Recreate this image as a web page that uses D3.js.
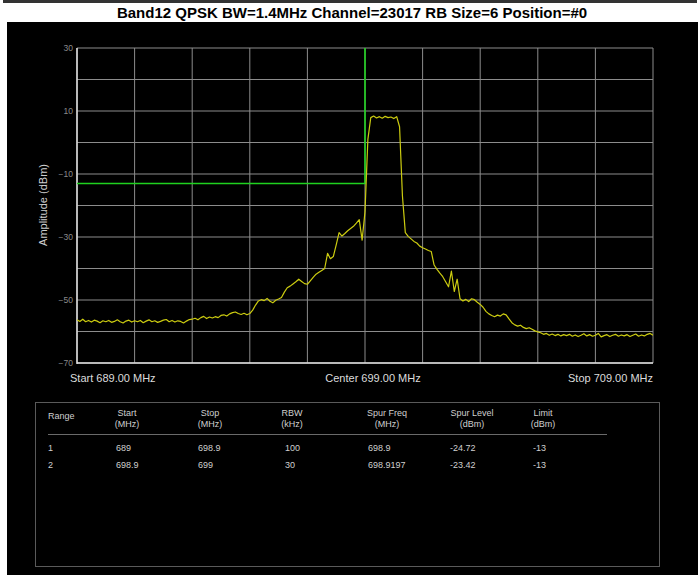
<!DOCTYPE html>
<html>
<head>
<meta charset="utf-8">
<script src="https://cdn.jsdelivr.net/npm/d3@7/dist/d3.min.js"></script>
<style>
  html, body { margin: 0; padding: 0; background: #fff; }
  svg { display: block; }
  text { font-family: "Liberation Sans", Arial, sans-serif; }
</style>
</head>
<body>
<svg id="chart" width="700" height="575"></svg>
<script>
// ---------------- DATA ----------------
const title = "Band12 QPSK BW=1.4MHz Channel=23017 RB Size=6 Position=#0";
const startFreq = 689;   // MHz
const stopFreq = 709;    // MHz
const centerFreq = 699;  // MHz
const yTickValues = [30, 10, -10, -30, -50, -70];
const yGridValues = [30, 20, 10, 0, -10, -20, -30, -40, -50, -60, -70];
const xGridValues = [689, 691, 693, 695, 697, 699, 701, 703, 705, 707, 709];
const xLabels = ["Start 689.00 MHz", "Center 699.00 MHz", "Stop 709.00 MHz"];
const yAxisTitle = "Amplitude (dBm)";

// trace levels (dBm), one sweep point every 0.1 MHz from 689.0 to 709.0
const traceLevels = [
  -56.3,
  -56.8, -56.1, -56.9, -56.5, -57.0, -56.4, -56.7, -57.2, -56.6, -56.9,
  -56.5, -57.1, -56.8, -56.3, -56.9, -57.3, -56.7, -56.4, -57.0, -56.6,
  -56.9, -56.5, -57.2, -56.7, -56.3, -56.9, -56.6, -57.1, -56.8, -56.4,
  -56.2, -56.9, -56.5, -57.0, -56.6, -56.8, -57.3, -56.7, -56.2, -56.1,
  -55.8, -56.3, -55.6, -55.2, -55.9, -55.4, -55.7, -55.3, -55.6, -54.9,
  -54.7, -55.1, -54.4, -54.0, -53.8, -54.3, -54.6, -54.2, -54.7, -54.3,
  -53.2, -51.6, -50.3, -49.9, -50.2, -49.5, -50.4, -50.9, -50.1, -49.7,
  -49.2, -47.5, -46.1, -45.6, -44.9, -44.2, -43.4, -44.1, -44.8, -45.0,
  -43.9, -42.8, -41.8, -41.2, -40.6, -40.0, -35.2, -36.9, -36.2, -32.5,
  -28.6, -29.7, -28.9, -28.0, -27.3, -26.6, -25.6, -24.5, -31.0, -22.0,
    1.0,   7.9,   8.4,   7.8,   8.2,   7.7,   8.3,   7.9,   8.1,   7.6,
    8.2,   5.0, -17.0, -28.6, -29.8, -30.6, -31.4, -31.9, -32.9, -33.4,
  -33.8, -34.3, -34.6, -38.9, -40.3, -41.5, -42.6, -44.2, -45.8, -40.8,
  -47.3, -43.4, -49.6, -50.3, -49.8, -50.5, -49.6, -49.9, -50.7, -51.4,
  -52.3, -53.6, -54.4, -54.9, -55.3, -54.8, -55.1, -54.4, -54.7, -56.0,
  -57.2, -57.9, -58.3, -58.0, -58.7, -59.1, -58.8, -59.3, -59.8, -60.1,
  -60.4, -60.9, -60.6, -61.2, -60.8, -61.3, -60.9, -61.4, -61.0, -61.3,
  -60.9, -61.5, -61.1, -61.6, -61.2, -60.7, -61.4, -61.0, -61.5, -61.2,
  -60.6, -61.7, -61.3, -61.0, -61.6, -61.2, -60.9, -61.5, -61.1, -61.4,
  -61.0, -61.6, -61.2, -60.8, -61.5, -61.1, -61.4, -60.9, -60.6, -61.2
];

// limit line
const limitFreqs = [689, 699, 699];
const limitLevels = [-13, -13, 30];

// results table
const tableHeaders = [["Range"], ["Start", "(MHz)"], ["Stop", "(MHz)"], ["RBW", "(kHz)"],
                      ["Spur Freq", "(MHz)"], ["Spur Level", "(dBm)"], ["Limit", "(dBm)"]];
const tableRows = [
  ["1", "689", "698.9", "100", "698.9", "-24.72", "-13"],
  ["2", "698.9", "699", "30", "698.9197", "-23.42", "-13"]
];

// ---------------- DRAW ----------------
const svg = d3.select("#chart");

// title strip
svg.append("rect").attr("x", 3).attr("y", 0).attr("width", 694).attr("height", 3).attr("fill", "#333");
svg.append("text").attr("x", 352).attr("y", 18).attr("text-anchor", "middle")
  .attr("font-size", 15).attr("font-weight", "bold").attr("fill", "#000").text(title);

// black panel
svg.append("rect").attr("x", 7).attr("y", 22).attr("width", 691).attr("height", 553).attr("fill", "#000");

const plot = { left: 77, right: 653, top: 48, bottom: 363 };
const x = d3.scaleLinear().domain([startFreq, stopFreq]).range([plot.left, plot.right]);
const y = d3.scaleLinear().domain([-70, 30]).range([plot.bottom, plot.top]);

// grid
const g = svg.append("g");
g.selectAll("line.h").data(yGridValues).join("line")
  .attr("x1", plot.left).attr("x2", plot.right)
  .attr("y1", d => y(d)).attr("y2", d => y(d))
  .attr("stroke", "#8c8c8c").attr("stroke-width", 1);
g.selectAll("line.v").data(xGridValues).join("line")
  .attr("y1", plot.top).attr("y2", plot.bottom)
  .attr("x1", d => x(d)).attr("x2", d => x(d))
  .attr("stroke", "#8c8c8c").attr("stroke-width", 1);
// frame left & bottom brighter
g.append("line").attr("x1", plot.left).attr("x2", plot.left).attr("y1", plot.top).attr("y2", plot.bottom + 1)
  .attr("stroke", "#e0e0e0").attr("stroke-width", 1.5);
g.append("line").attr("x1", plot.left).attr("x2", plot.right).attr("y1", plot.bottom).attr("y2", plot.bottom)
  .attr("stroke", "#e0e0e0").attr("stroke-width", 1.5);

// y tick labels
const yAxis = d3.axisLeft(y).tickValues(yTickValues).tickSize(0).tickPadding(4).tickFormat(d3.format("d"));
const ya = svg.append("g").attr("transform", `translate(${plot.left},0)`).call(yAxis);
ya.select(".domain").remove();
ya.selectAll("text").attr("fill", "#8a8a8a").attr("font-size", 8.5)
  .attr("font-family", "Liberation Sans, Arial, sans-serif");

// y axis title
svg.append("text").attr("transform", "translate(47,205) rotate(-90)").attr("text-anchor", "middle")
  .attr("font-size", 11).attr("fill", "#cfcfcf").text(yAxisTitle);

// x labels
svg.append("text").attr("x", 70).attr("y", 382).attr("font-size", 11).attr("fill", "#dcdcdc").text(xLabels[0]);
svg.append("text").attr("x", x(centerFreq) + 8).attr("y", 382).attr("text-anchor", "middle")
  .attr("font-size", 11).attr("fill", "#dcdcdc").text(xLabels[1]);
svg.append("text").attr("x", 653).attr("y", 382).attr("text-anchor", "end")
  .attr("font-size", 11).attr("fill", "#dcdcdc").text(xLabels[2]);

// clip
svg.append("clipPath").attr("id", "clip").append("rect")
  .attr("x", plot.left).attr("y", plot.top).attr("width", plot.right - plot.left).attr("height", plot.bottom - plot.top);

// limit line
const limitData = limitFreqs.map((f, i) => [f, limitLevels[i]]);
svg.append("path").datum(limitData).attr("clip-path", "url(#clip)")
  .attr("d", d3.line().x(d => x(d[0])).y(d => y(d[1])))
  .attr("fill", "none").attr("stroke", "#1fd21f").attr("stroke-width", 1.6);

// trace
const step = (stopFreq - startFreq) / (traceLevels.length - 1);
const traceData = traceLevels.map((v, i) => [startFreq + i * step, v]);
svg.append("path").datum(traceData).attr("clip-path", "url(#clip)")
  .attr("d", d3.line().x(d => x(d[0])).y(d => y(d[1])))
  .attr("fill", "none").attr("stroke", "#cccc10").attr("stroke-width", 1.2)
  .attr("stroke-linejoin", "round");

// table
svg.append("rect").attr("x", 35.5).attr("y", 402.5).attr("width", 624).attr("height", 164)
  .attr("fill", "none").attr("stroke", "#5a5a5a").attr("stroke-width", 1);
const headerCenters = [null, 127, 210, 292, 387, 472, 543];
const valueLefts = [48, 116, 198, 285, 368, 450, 533];
tableHeaders.forEach((h, i) => {
  if (i === 0) {
    svg.append("text").attr("x", valueLefts[0]).attr("y", 419).attr("font-size", 9)
      .attr("fill", "#cfcfcf").text(h[0]);
  } else {
    h.forEach((line, j) => {
      svg.append("text").attr("x", headerCenters[i]).attr("y", 416 + j * 11).attr("text-anchor", "middle")
        .attr("font-size", 9).attr("fill", "#cfcfcf").text(line);
    });
  }
});
svg.append("line").attr("x1", 48).attr("x2", 607).attr("y1", 434.5).attr("y2", 434.5)
  .attr("stroke", "#6a6a6a").attr("stroke-width", 1);
tableRows.forEach((r, ri) => {
  r.forEach((c, ci) => {
    svg.append("text").attr("x", valueLefts[ci]).attr("y", 451 + ri * 17).attr("font-size", 9)
      .attr("fill", "#cfcfcf").text(c);
  });
});
</script>
</body>
</html>
